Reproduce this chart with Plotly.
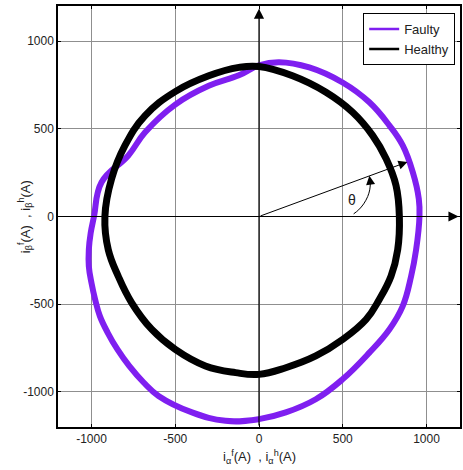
import plotly.graph_objects as go

# ---- data (A) ----
healthy_x = [838, 818, 759, 679, 559, 400, 200, 0, -120, -300, -500, -680, -800, -880, -920,
             -900, -840, -760, -640, -500, -320, -140, 0, 160, 339, 499, 639, 718, 788, 828, 838]
healthy_y = [0, 177, 329, 461, 594, 708, 802, 855, 850, 802, 712, 575, 405, 215, 0,
             -189, -341, -492, -644, -758, -852, -890, -900, -862, -795, -701, -587, -473, -341, -189, 0]

faulty_x = [958, 954, 918, 858, 779, 659, 499, 300, 120, 0, -120, -300, -500, -680, -780, -940, -985,
            -1005, -1016, -1016, -1000, -978, -950, -903, -845, -775, -690, -600, -400, -200, 0, 160, 339,
            499, 659, 778, 858, 908, 938, 958]
faulty_y = [0, 101, 253, 405, 518, 651, 764, 850, 880, 862, 805, 745, 638, 480, 348, 195, 0,
            -95, -189, -284, -379, -474, -568, -663, -758, -852, -945, -1023, -1117, -1165, -1155, -1117, -1042,
            -928, -776, -644, -511, -341, -189, 0]

tick_vals = [-1000, -500, 0, 500, 1000]
tick_text = ["-1000", "-500", "0", "500", "1000"]
axis_range = [-1200, 1200]

theta_vec = [886, 311]
arc_x = [565, 595, 625, 649, 661, 665]
arc_y = [15, 38, 72, 114, 152, 190]
arc_tip = [659, 232]
theta_label_pos = [553, 95]

purple = "#7f1ff0"
black = "#000000"
font_family = "Liberation Sans, Arial, sans-serif"
text_color = "#222222"

fig = go.Figure()

fig.add_trace(go.Scatter(x=faulty_x, y=faulty_y, mode="lines",
                         line=dict(color=purple, width=6, shape="spline", smoothing=1.2),
                         showlegend=False, hoverinfo="skip"))
fig.add_trace(go.Scatter(x=healthy_x, y=healthy_y, mode="lines",
                         line=dict(color=black, width=7, shape="spline", smoothing=1.2),
                         showlegend=False, hoverinfo="skip"))
# legend entries
fig.add_trace(go.Scatter(x=[None], y=[None], mode="lines", name="Faulty",
                         line=dict(color=purple, width=2.5)))
fig.add_trace(go.Scatter(x=[None], y=[None], mode="lines", name="Healthy",
                         line=dict(color=black, width=2.5)))
# theta arc
fig.add_trace(go.Scatter(x=arc_x, y=arc_y, mode="lines",
                         line=dict(color=black, width=1, shape="spline"),
                         showlegend=False, hoverinfo="skip"))

annos = []
# axes arrows
annos.append(dict(x=axis_range[1] - 8, y=0, ax=axis_range[0], ay=0, xref="x", yref="y",
                  axref="x", ayref="y", text="", showarrow=True, arrowhead=2, arrowsize=1.7,
                  arrowwidth=1.2, arrowcolor=black))
annos.append(dict(x=0, y=axis_range[1] - 15, ax=0, ay=axis_range[0], xref="x", yref="y",
                  axref="x", ayref="y", text="", showarrow=True, arrowhead=2, arrowsize=1.7,
                  arrowwidth=1.2, arrowcolor=black))
# vector arrow
annos.append(dict(x=theta_vec[0], y=theta_vec[1], ax=0, ay=0, xref="x", yref="y",
                  axref="x", ayref="y", text="", showarrow=True, arrowhead=2, arrowsize=1.8,
                  arrowwidth=1, arrowcolor=black))
# arc arrowhead
annos.append(dict(x=arc_tip[0], y=arc_tip[1], ax=arc_x[-1], ay=arc_y[-1], xref="x", yref="y",
                  axref="x", ayref="y", text="", showarrow=True, arrowhead=2, arrowsize=1.8,
                  arrowwidth=1, arrowcolor=black))
annos.append(dict(x=theta_label_pos[0], y=theta_label_pos[1], xref="x", yref="y", text="θ",
                  showarrow=False, font=dict(size=14, color=text_color, family=font_family)))
# axis titles
annos.append(dict(x=0.5, y=-0.072, xref="paper", yref="paper", xanchor="center", yanchor="middle",
                  text="i<sub>α</sub><sup>f</sup>(A)  , i<sub>α</sub><sup>h</sup>(A)",
                  showarrow=False, font=dict(size=13, color=text_color, family=font_family)))
annos.append(dict(x=-0.083, y=0.5, xref="paper", yref="paper", xanchor="center", yanchor="middle",
                  textangle=-90,
                  text="i<sub>β</sub><sup>f</sup>(A)  , i<sub>β</sub><sup>h</sup>(A)",
                  showarrow=False, font=dict(size=13, color=text_color, family=font_family)))

axis_common = dict(
    range=axis_range, tickvals=tick_vals, ticktext=tick_text,
    showgrid=True, gridcolor="#8f8f8f", gridwidth=1, zeroline=False,
    showline=True, linecolor=black, linewidth=1.5, mirror="ticks",
    ticks="inside", ticklen=3, tickcolor=black, automargin=False,
    tickfont=dict(size=12, color=text_color, family=font_family),
)

fig.update_layout(
    width=463, height=470,
    margin=dict(l=58, r=3, t=6, b=43, autoexpand=False),
    paper_bgcolor="white", plot_bgcolor="white",
    xaxis=dict(**axis_common),
    yaxis=dict(**axis_common),
    legend=dict(x=0.988, y=0.983, xanchor="right", yanchor="top",
                bgcolor="white", bordercolor=black, borderwidth=1,
                font=dict(size=13, color=text_color, family=font_family),
                itemwidth=30, tracegroupgap=0),
    annotations=annos,
    showlegend=True,
)

fig.write_html("out.html", config=dict(displayModeBar=False),
               post_script="document.body.style.margin='0';document.body.style.padding='0';")
